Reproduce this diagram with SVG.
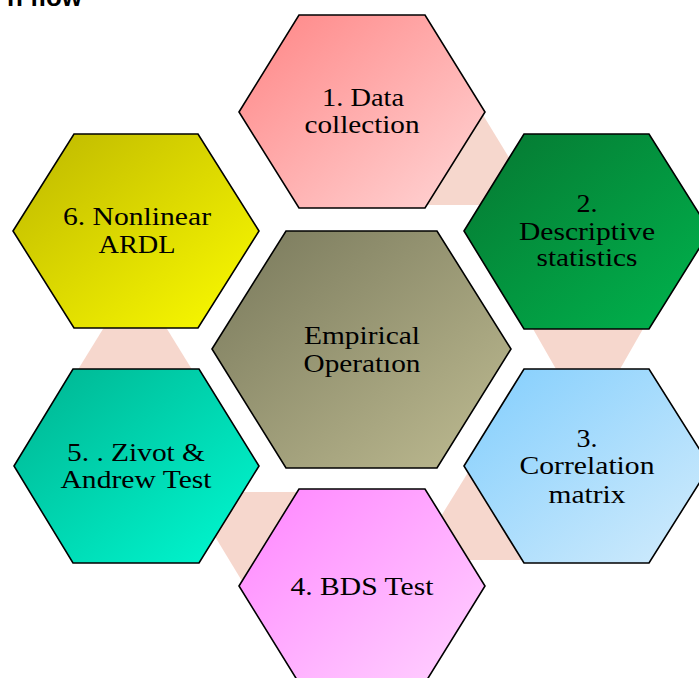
<svg xmlns="http://www.w3.org/2000/svg" width="699" height="678" viewBox="0 0 699 678">
<defs>
<linearGradient id="g1" x1="0" y1="0" x2="1" y2="1"><stop offset="0" stop-color="#FF8585"/><stop offset="1" stop-color="#FFD6D6"/></linearGradient>
<linearGradient id="g2" x1="0" y1="0" x2="1" y2="1"><stop offset="0" stop-color="#067731"/><stop offset="1" stop-color="#00B54E"/></linearGradient>
<linearGradient id="g3" x1="0" y1="0" x2="1" y2="1"><stop offset="0" stop-color="#82CEFD"/><stop offset="1" stop-color="#D3ECFC"/></linearGradient>
<linearGradient id="g4" x1="0" y1="0" x2="1" y2="1"><stop offset="0" stop-color="#FF85FF"/><stop offset="1" stop-color="#FFD3FF"/></linearGradient>
<linearGradient id="g5" x1="0" y1="0" x2="1" y2="1"><stop offset="0" stop-color="#00B390"/><stop offset="1" stop-color="#00FAD2"/></linearGradient>
<linearGradient id="g6" x1="0" y1="0" x2="1" y2="1"><stop offset="0" stop-color="#BDB700"/><stop offset="1" stop-color="#FCFC00"/></linearGradient>
<linearGradient id="gc" x1="0" y1="0" x2="1" y2="1"><stop offset="0" stop-color="#78785B"/><stop offset="1" stop-color="#BFBC92"/></linearGradient>
</defs>
<style>
.hex{stroke:#000;stroke-width:1.6;stroke-linejoin:miter}
.con{fill:#F6D7CD;stroke:none}
.lbl{font-family:"Liberation Serif","Times New Roman",serif;font-size:26px;fill:#000;text-anchor:middle}
.title{font-family:"Liberation Sans",Arial,sans-serif;font-size:26px;font-weight:bold;fill:#000;text-anchor:end}
</style>
<rect width="699" height="678" fill="#fff"/>
<text class="title" x="82" y="6">n flow</text>
<g id="connectors">
<polygon class="con" points="480,110 538,205 400,205"/>
<polygon class="con" points="505,280 671,280 588,425"/>
<polygon class="con" points="472,466 564,560 414,560"/>
<polygon class="con" points="245,586 340,492 188,492"/>
<polygon class="con" points="50,415 220,415 135,277"/>
</g>
<g id="center">
<polygon class="hex" fill="url(#gc)" points="212,349 286,231 437,231 511,349 437,468 286,468"/>
<text class="lbl" x="362" y="344" textLength="116" lengthAdjust="spacingAndGlyphs">Empirical</text>
<text class="lbl" x="362" y="372" textLength="117" lengthAdjust="spacingAndGlyphs">Operatıon</text>
</g>
<g id="node1">
<polygon class="hex" fill="url(#g1)" points="239,112 299,15 425,15 485,112 425,208 299,208"/>
<text class="lbl" x="363" y="106" textLength="82" lengthAdjust="spacingAndGlyphs">1. Data</text>
<text class="lbl" x="362" y="133" textLength="115" lengthAdjust="spacingAndGlyphs">collection</text>
</g>
<g id="node2">
<polygon class="hex" fill="url(#g2)" points="464,231 524,134 649,134 710,231 649,329 524,329"/>
<text class="lbl" x="587" y="212" textLength="21" lengthAdjust="spacingAndGlyphs">2.</text>
<text class="lbl" x="587" y="240" textLength="136" lengthAdjust="spacingAndGlyphs">Descriptive</text>
<text class="lbl" x="587" y="266" textLength="101" lengthAdjust="spacingAndGlyphs">statistics</text>
</g>
<g id="node3">
<polygon class="hex" fill="url(#g3)" points="464,466 524,369 649,369 710,466 649,563 524,563"/>
<text class="lbl" x="587" y="447" textLength="21" lengthAdjust="spacingAndGlyphs">3.</text>
<text class="lbl" x="587" y="474" textLength="135" lengthAdjust="spacingAndGlyphs">Correlation</text>
<text class="lbl" x="587" y="503" textLength="77" lengthAdjust="spacingAndGlyphs">matrix</text>
</g>
<g id="node4">
<polygon class="hex" fill="url(#g4)" points="239,586 299,489 425,489 485,586 425,683 299,683"/>
<text class="lbl" x="362" y="595" textLength="143" lengthAdjust="spacingAndGlyphs">4. BDS Test</text>
</g>
<g id="node5">
<polygon class="hex" fill="url(#g5)" points="14,466 73,369 199,369 259,466 199,563 73,563"/>
<text class="lbl" x="136" y="461" textLength="138" lengthAdjust="spacingAndGlyphs">5. . Zivot &amp;</text>
<text class="lbl" x="136" y="488" textLength="151" lengthAdjust="spacingAndGlyphs">Andrew Test</text>
</g>
<g id="node6">
<polygon class="hex" fill="url(#g6)" points="13,231 74,134 198,134 259,231 198,328 74,328"/>
<text class="lbl" x="137" y="225" textLength="148" lengthAdjust="spacingAndGlyphs">6. Nonlinear</text>
<text class="lbl" x="137" y="253" textLength="77" lengthAdjust="spacingAndGlyphs">ARDL</text>
</g>
</svg>
